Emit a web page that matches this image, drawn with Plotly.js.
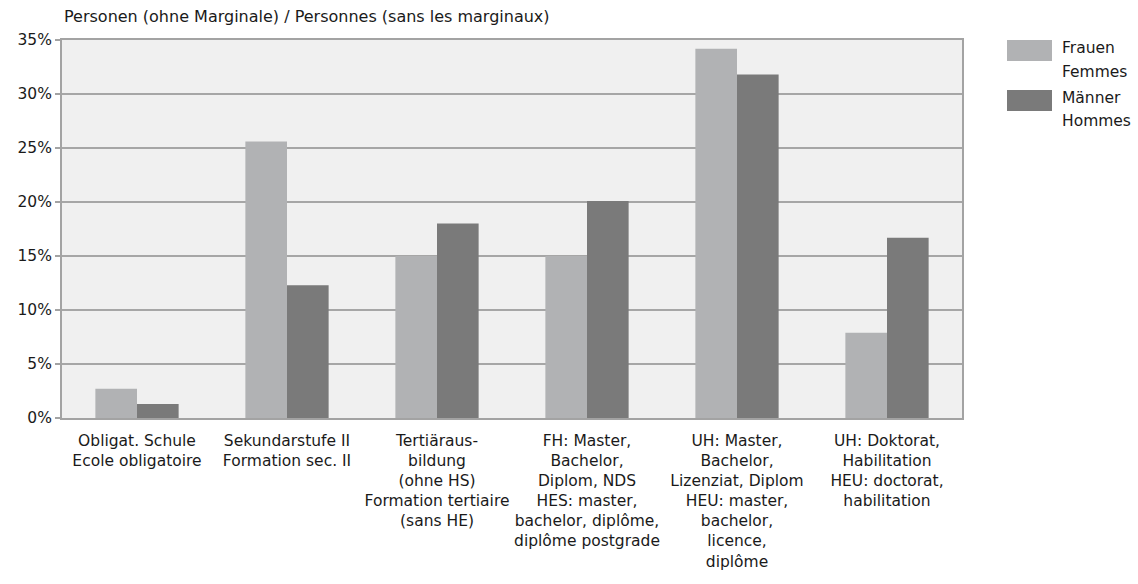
<!DOCTYPE html>
<html>
<head>
<meta charset="utf-8">
<script src="https://cdn.plot.ly/plotly-3.0.1.min.js"></script>
<style>body{margin:0;background:#fff;}#chart{width:1138px;height:584px;}</style>
</head>
<body>
<div id="chart"></div>
<script>
const categories = [
  "Obligat. Schule<br>Ecole obligatoire",
  "Sekundarstufe II<br>Formation sec. II",
  "Tertiäraus-<br>bildung<br>(ohne HS)<br>Formation tertiaire<br>(sans HE)",
  "FH: Master,<br>Bachelor,<br>Diplom, NDS<br>HES: master,<br>bachelor, diplôme,<br>diplôme postgrade",
  "UH: Master,<br>Bachelor,<br>Lizenziat, Diplom<br>HEU: master,<br>bachelor,<br>licence,<br>diplôme",
  "UH: Doktorat,<br>Habilitation<br>HEU: doctorat,<br>habilitation"
];
const frauen = [0.027, 0.256, 0.150, 0.150, 0.342, 0.079];
const maenner = [0.013, 0.123, 0.180, 0.201, 0.318, 0.167];
const seriesNames = ["Frauen<br>Femmes", "Männer<br>Hommes"];
const seriesColors = ["#b1b2b4", "#7a7a7a"];
const yTickVals = [0, 0.05, 0.10, 0.15, 0.20, 0.25, 0.30, 0.35];
const yTickText = ["0%", "5%", "10%", "15%", "20%", "25%", "30%", "35%"];
const axisTitle = "Personen (ohne Marginale) / Personnes (sans les marginaux)";

const FONT = "DejaVu Sans, sans-serif";
const FS = 15.5;
const TXT = "#1a1a1a";
const traces = [frauen, maenner].map((vals, i) => ({
  type: "bar",
  x: categories,
  y: vals,
  name: seriesNames[i],
  marker: {color: seriesColors[i], line: {width: 0}},
  hoverinfo: "skip"
}));

const py = px => (418 - px) / 378;
const px = p => (p - 62) / 900;
const shapes = [];
const annotations = [{
  xref: "paper", yref: "paper", x: 0, y: py(17), xanchor: "left", yanchor: "middle",
  text: axisTitle, showarrow: false,
  font: {family: FONT, size: 16, color: TXT}
}];
seriesNames.forEach((nm, i) => {
  const top = 40 + i * 50;
  shapes.push({
    type: "rect", xref: "paper", yref: "paper",
    x0: px(1007), x1: px(1052),
    y0: py(top + 21), y1: py(top),
    fillcolor: seriesColors[i], line: {width: 0}
  });
  nm.split("<br>").forEach((line, j) => {
    annotations.push({
      xref: "paper", yref: "paper", x: px(1060), y: py(top + 8 + j * 23.5),
      xanchor: "left", yanchor: "middle", align: "left", showarrow: false,
      text: line, font: {family: FONT, size: FS, color: TXT}
    });
  });
});

const layout = {
  width: 1138, height: 584,
  margin: {l: 62, r: 176, t: 40, b: 166},
  paper_bgcolor: "#ffffff",
  plot_bgcolor: "#f0f0f0",
  showlegend: false,
  barmode: "group",
  bargap: 0.445,
  bargroupgap: 0,
  font: {family: FONT, size: FS, color: TXT},
  xaxis: {
    type: "category",
    showline: true, mirror: true, linecolor: "#a3a3a3", linewidth: 2,
    ticks: "", showgrid: false, tickfont: {family: FONT, size: FS, color: TXT},
    ticklabelstandoff: 7,
    fixedrange: true
  },
  yaxis: {
    range: [0, 0.35],
    tickvals: yTickVals, ticktext: yTickText,
    showline: true, mirror: true, linecolor: "#a3a3a3", linewidth: 2,
    ticks: "outside", ticklen: 5, tickwidth: 1.5, tickcolor: "#a3a3a3",
    showgrid: true, gridcolor: "#a6a6a6", gridwidth: 1.5,
    zeroline: false,
    tickfont: {family: FONT, size: FS, color: TXT},
    fixedrange: true
  },
  shapes: shapes,
  annotations: annotations
};

Plotly.newPlot("chart", traces, layout, {displayModeBar: false, staticPlot: true});
</script>
</body>
</html>
